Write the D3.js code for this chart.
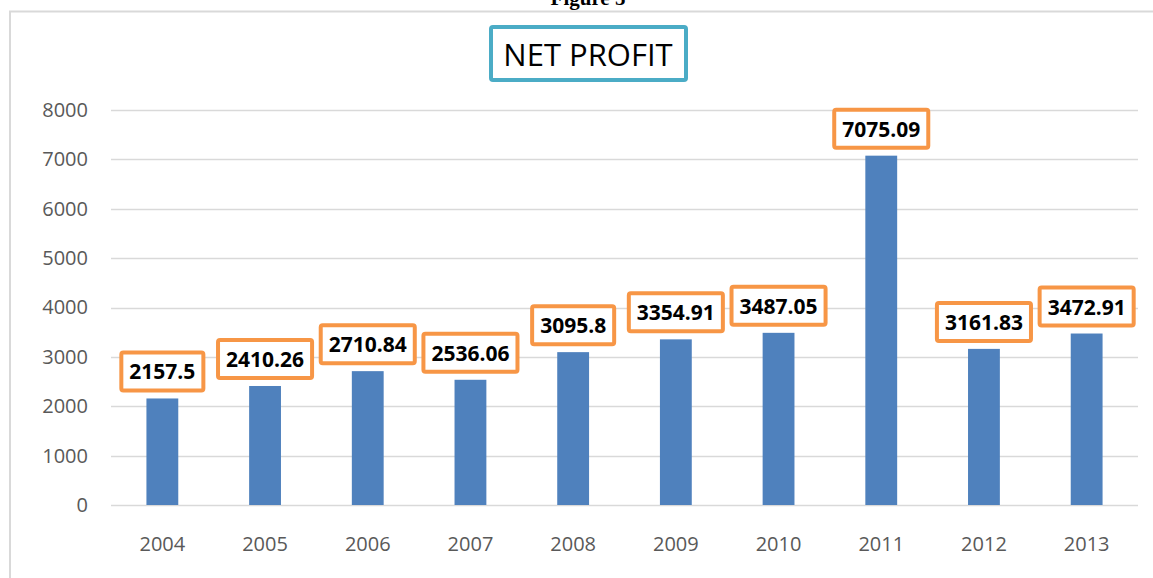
<!DOCTYPE html>
<html>
<head>
<meta charset="utf-8">
<script src="https://cdn.jsdelivr.net/npm/d3@7"></script>
<style>
  body { margin: 0; background: #fff; }
  svg { display: block; }
</style>
</head>
<body>
<script>
var w = 1153;
var h = 578;

// data
var years = ["2004", "2005", "2006", "2007", "2008", "2009", "2010", "2011", "2012", "2013"];
var profit = [2157.5, 2410.26, 2710.84, 2536.06, 3095.8, 3354.91, 3487.05, 7075.09, 3161.83, 3472.91];
var labels = ["2157.5", "2410.26", "2710.84", "2536.06", "3095.8", "3354.91", "3487.05", "7075.09", "3161.83", "3472.91"];
var yTicks = [0, 1000, 2000, 3000, 4000, 5000, 6000, 7000, 8000];

var svg = d3.select("body")
    .append("svg")
    .attr("width", w)
    .attr("height", h);

// page caption, cut off at the top
svg.append("text")
    .attr("x", 588)
    .attr("y", 5)
    .attr("text-anchor", "middle")
    .style("font-family", "Liberation Serif")
    .style("font-weight", "bold")
    .style("font-size", "21px")
    .text("Figure 5");

// chart frame
svg.append("rect")
    .attr("x", 10)
    .attr("y", 11.5)
    .attr("width", w + 20)
    .attr("height", h + 20)
    .attr("fill", "none")
    .attr("stroke", "#d9d9d9")
    .attr("stroke-width", 2);

//scales
var x = d3.scaleBand()
    .domain(years)
    .range([111, 1138])
    .paddingInner(0.69)
    .paddingOuter(0.345);

var y = d3.scaleLinear()
    .domain([0, 8000])
    .range([505, 110]);

// gridlines
svg.selectAll("line.grid")
    .data(yTicks)
    .enter()
    .append("line")
    .attr("class", "grid")
    .attr("x1", 111)
    .attr("x2", 1138)
    .attr("y1", function (d) { return Math.round(y(d)) + 0.5; })
    .attr("y2", function (d) { return Math.round(y(d)) + 0.5; })
    .attr("stroke", "#d9d9d9")
    .attr("stroke-width", 1.5);

// y tick labels
var yAxis = svg.append("g")
    .attr("transform", "translate(88,0)")
    .call(d3.axisLeft(y).tickValues(yTicks).tickSize(0).tickPadding(0).tickFormat(d3.format("d")));
yAxis.select(".domain").remove();
yAxis.selectAll("text")
    .style("font-family", "Open Sans")
    .style("font-size", "20px")
    .attr("fill", "#595959");

// x tick labels
var xAxis = svg.append("g")
    .attr("transform", "translate(0,505)")
    .call(d3.axisBottom(x).tickSize(0).tickPadding(32));
xAxis.select(".domain").remove();
xAxis.selectAll("text")
    .style("font-family", "Open Sans")
    .style("font-size", "20px")
    .attr("fill", "#595959");

// bars
svg.selectAll("rect.bar")
    .data(profit)
    .enter()
    .append("rect")
    .attr("class", "bar")
    .attr("x", function (d, i) { return x(years[i]); })
    .attr("y", function (d) { return y(d); })
    .attr("width", x.bandwidth())
    .attr("height", function (d) { return y(0) - y(d); })
    .attr("fill", "#4f81bd");

// value labels in orange boxes
var lab = svg.selectAll("g.lab")
    .data(profit)
    .enter()
    .append("g")
    .attr("class", "lab");

lab.each(function (d, i) {
    var g = d3.select(this);
    var cx = x(years[i]) + x.bandwidth() / 2;
    var bottom = y(d) - 8;
    var boxH = 38;
    var rect = g.append("rect");
    var t = g.append("text")
        .attr("x", cx)
        .attr("y", bottom - boxH / 2 + 8)
        .attr("text-anchor", "middle")
        .style("font-family", "Open Sans")
        .style("font-weight", "bold")
        .style("font-size", "21px")
        .attr("fill", "#000")
        .text(labels[i]);
    var tw = t.node().getComputedTextLength();
    rect.attr("x", cx - tw / 2 - 8)
        .attr("y", bottom - boxH)
        .attr("width", tw + 16)
        .attr("height", boxH)
        .attr("rx", 2)
        .attr("fill", "#fff")
        .attr("stroke", "#f79646")
        .attr("stroke-width", 4);
});

// title
svg.append("rect")
    .attr("x", 491)
    .attr("y", 27)
    .attr("width", 195)
    .attr("height", 53)
    .attr("rx", 2)
    .attr("fill", "#fff")
    .attr("stroke", "#4bacc6")
    .attr("stroke-width", 4);

svg.append("text")
    .attr("x", 588)
    .attr("y", 66)
    .attr("text-anchor", "middle")
    .style("font-family", "Open Sans")
    .style("font-size", "31px")
    .attr("fill", "#000")
    .text("NET PROFIT");
</script>
</body>
</html>
